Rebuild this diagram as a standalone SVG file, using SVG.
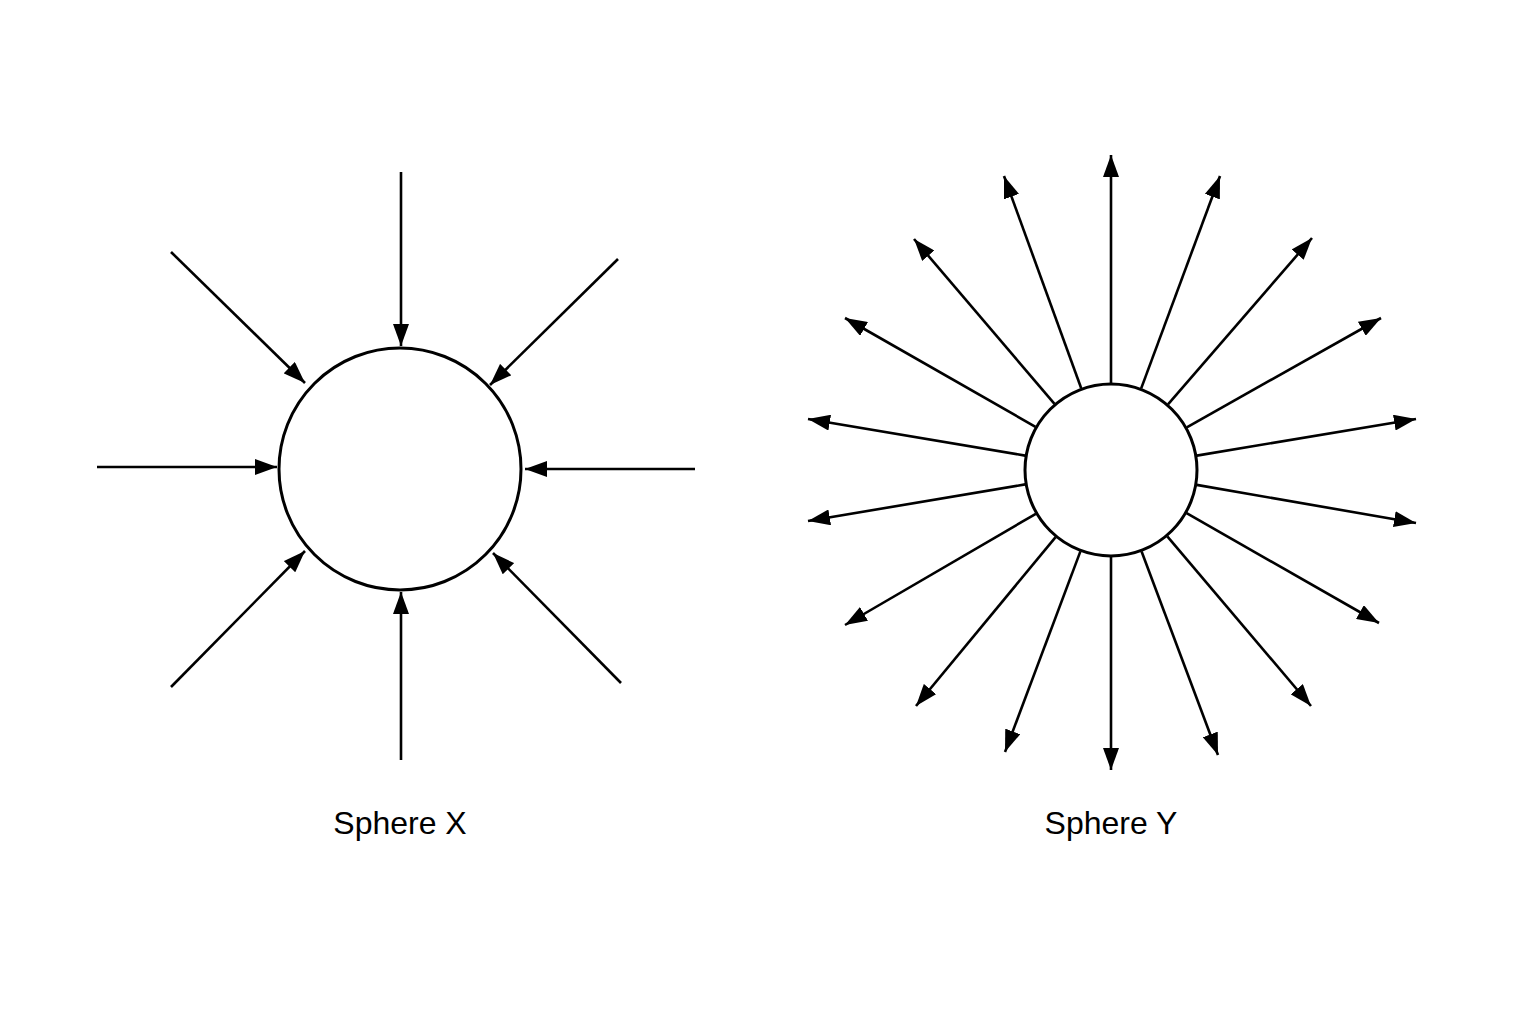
<svg xmlns="http://www.w3.org/2000/svg" width="1536" height="1024" viewBox="0 0 1536 1024">
<defs>
<style>
.sphere{fill:#fff;stroke:#000;stroke-width:3}
.ray{stroke:#000;stroke-width:2.6;fill:none;marker-end:url(#ah)}
.label{font-family:"Liberation Sans",Arial,sans-serif;font-size:32px;fill:#000;text-anchor:middle}
</style>
<marker id="ah" markerUnits="userSpaceOnUse" markerWidth="24" markerHeight="16" refX="22" refY="8" orient="auto">
<path d="M0,0 L22,8 L0,16 Z" fill="#000"/>
</marker>
</defs>
<rect width="1536" height="1024" fill="#fff"/>
<g id="sphere-x">
<circle class="sphere" cx="400" cy="469" r="121"/>
<text class="label" x="400" y="834">Sphere X</text>
</g>
<g id="sphere-y">
<circle class="sphere" cx="1111" cy="470" r="86"/>
<text class="label" x="1111" y="834">Sphere Y</text>
</g>
<g id="connectors">
<line class="ray" x1="401" y1="172" x2="401" y2="346"/>
<line class="ray" x1="171" y1="252" x2="305" y2="383"/>
<line class="ray" x1="618" y1="259" x2="490" y2="385"/>
<line class="ray" x1="97" y1="467" x2="277" y2="467"/>
<line class="ray" x1="695" y1="469" x2="525" y2="469"/>
<line class="ray" x1="171" y1="687" x2="305" y2="551"/>
<line class="ray" x1="621" y1="683" x2="493" y2="553"/>
<line class="ray" x1="401" y1="760" x2="401" y2="592"/>

<line class="ray" x1="1111" y1="383" x2="1111" y2="155"/>
<line class="ray" x1="1141.2" y1="388.4" x2="1220" y2="176"/>
<line class="ray" x1="1168" y1="404.3" x2="1312" y2="238"/>
<line class="ray" x1="1186.8" y1="427.3" x2="1381" y2="318"/>
<line class="ray" x1="1196.8" y1="455.6" x2="1416" y2="419"/>
<line class="ray" x1="1196.7" y1="484.9" x2="1416" y2="523"/>
<line class="ray" x1="1186.6" y1="513.1" x2="1379" y2="623"/>
<line class="ray" x1="1167.3" y1="536.4" x2="1311" y2="706"/>
<line class="ray" x1="1141.6" y1="551.5" x2="1218" y2="755"/>
<line class="ray" x1="1111" y1="557" x2="1111" y2="770"/>
<line class="ray" x1="1080.4" y1="551.4" x2="1005" y2="752"/>
<line class="ray" x1="1055.6" y1="537.1" x2="916" y2="706"/>
<line class="ray" x1="1035.8" y1="513.8" x2="845" y2="625"/>
<line class="ray" x1="1025.2" y1="484.4" x2="808" y2="521"/>
<line class="ray" x1="1025.2" y1="455.6" x2="808" y2="419"/>
<line class="ray" x1="1035.5" y1="426.8" x2="845" y2="318"/>
<line class="ray" x1="1054.5" y1="403.8" x2="914" y2="239"/>
<line class="ray" x1="1081.2" y1="388.3" x2="1004" y2="176"/>
</g>
</svg>
